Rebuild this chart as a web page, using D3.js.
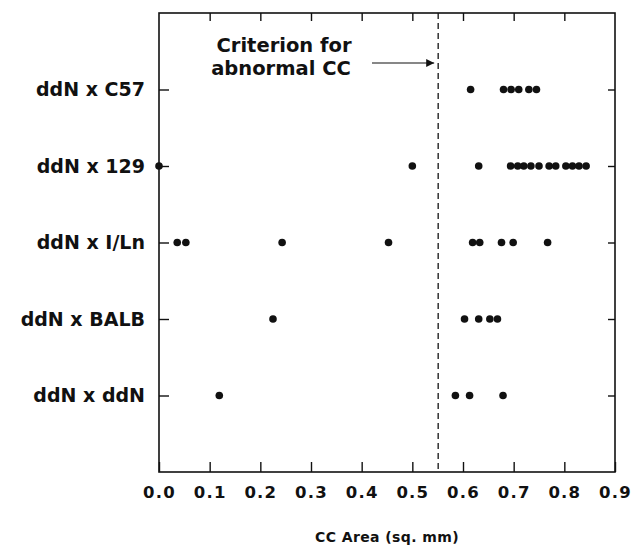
<!DOCTYPE html>
<html><head><meta charset="utf-8">
<script src="https://cdn.jsdelivr.net/npm/d3@7"></script>
<style>body{margin:0;background:#fff}</style>
</head><body>
<svg id="c" width="632" height="546"></svg>
<script>
const categories = ["ddN x C57","ddN x 129","ddN x I/Ln","ddN x BALB","ddN x ddN"];
const c57  = [0.615,0.68,0.695,0.71,0.73,0.745];
const s129 = [0.0,0.50,0.631,0.694,0.708,0.72,0.734,0.75,0.77,0.783,0.803,0.816,0.829,0.843];
const iln  = [0.036,0.053,0.243,0.453,0.619,0.633,0.676,0.699,0.767];
const balb = [0.225,0.603,0.631,0.653,0.668];
const ddn  = [0.119,0.585,0.613,0.679];
const seriesValues = [c57,s129,iln,balb,ddn];
const xTicks = [0,0.1,0.2,0.3,0.4,0.5,0.6,0.7,0.8,0.9];
const criterion = 0.551;

const L=159,R=615,T=13,B=472;
const svg=d3.select("#c");
const x=d3.scaleLinear().domain([0,0.9]).range([L,R]);
const y=d3.scalePoint().domain(categories).range([T,B]).padding(1);
const font="'DejaVu Sans', Arial, Helvetica, sans-serif";

// frame
svg.append("rect").attr("x",L).attr("y",T).attr("width",R-L).attr("height",B-T)
  .attr("fill","none").attr("stroke","#111").attr("stroke-width",1.6);

// bottom axis
const bx=svg.append("g").attr("transform",`translate(0,${B})`)
  .call(d3.axisBottom(x).tickValues(xTicks).tickSizeInner(-10).tickSizeOuter(0).tickPadding(14).tickFormat(d3.format(".1f")));
bx.select(".domain").remove();
bx.selectAll("line").attr("stroke","#111").attr("stroke-width",1.4);
bx.selectAll("text").attr("font-family",font).attr("font-weight","bold").attr("font-size",16.5).attr("fill","#111")
  .style("letter-spacing","1.2px");

// top axis
const tx=svg.append("g").attr("transform",`translate(0,${T})`)
  .call(d3.axisTop(x).tickValues(xTicks.slice(1,-1)).tickSizeInner(-8).tickSizeOuter(0).tickFormat(""));
tx.select(".domain").remove();
tx.selectAll("line").attr("stroke","#111").attr("stroke-width",1.4);

// left axis
const ly=svg.append("g").attr("transform",`translate(${L},0)`)
  .call(d3.axisLeft(y).tickSizeInner(-10).tickSizeOuter(0).tickPadding(14));
ly.select(".domain").remove();
ly.selectAll("line").attr("stroke","#111").attr("stroke-width",1.4);
ly.selectAll("text").attr("font-family",font).attr("font-weight","bold").attr("font-size",19).attr("fill","#111");

// right axis
const ry=svg.append("g").attr("transform",`translate(${R},0)`)
  .call(d3.axisRight(y).tickSizeInner(-7).tickSizeOuter(0).tickFormat(""));
ry.select(".domain").remove();
ry.selectAll("line").attr("stroke","#111").attr("stroke-width",1.4);

// criterion line
svg.append("line").attr("x1",x(criterion)).attr("x2",x(criterion)).attr("y1",T).attr("y2",B)
  .attr("stroke","#111").attr("stroke-width",1.3).attr("stroke-dasharray","6,4");

// annotation
const ann=svg.append("text").attr("font-family",font).attr("font-weight","bold").attr("font-size",19.5).attr("fill","#111").attr("text-anchor","middle");
ann.append("tspan").attr("x",284).attr("y",52).text("Criterion for");
ann.append("tspan").attr("x",281).attr("y",75).text("abnormal CC");
svg.append("defs").append("marker").attr("id","ah").attr("viewBox","0 0 10 10").attr("refX",10).attr("refY",5)
  .attr("markerWidth",11).attr("markerHeight",8).attr("markerUnits","userSpaceOnUse").attr("orient","auto")
  .append("path").attr("d","M0,0L10,5L0,10Z").attr("fill","#111");
svg.append("line").attr("x1",372).attr("x2",x(criterion)-4).attr("y1",63).attr("y2",63)
  .attr("stroke","#111").attr("stroke-width",1.2).attr("marker-end","url(#ah)");

// dots
categories.forEach((cat,i)=>{
  svg.append("g").selectAll("circle").data(seriesValues[i]).join("circle")
    .attr("cx",d=>x(d)).attr("cy",y(cat)).attr("r",3.8).attr("fill","#111");
});

// x title
svg.append("text").attr("x",(L+R)/2).attr("y",542).attr("text-anchor","middle")
  .attr("font-family",font).attr("font-weight","bold").attr("font-size",14).attr("fill","#111")
  .style("letter-spacing","0.4px").text("CC Area (sq. mm)");
</script>
</body></html>
